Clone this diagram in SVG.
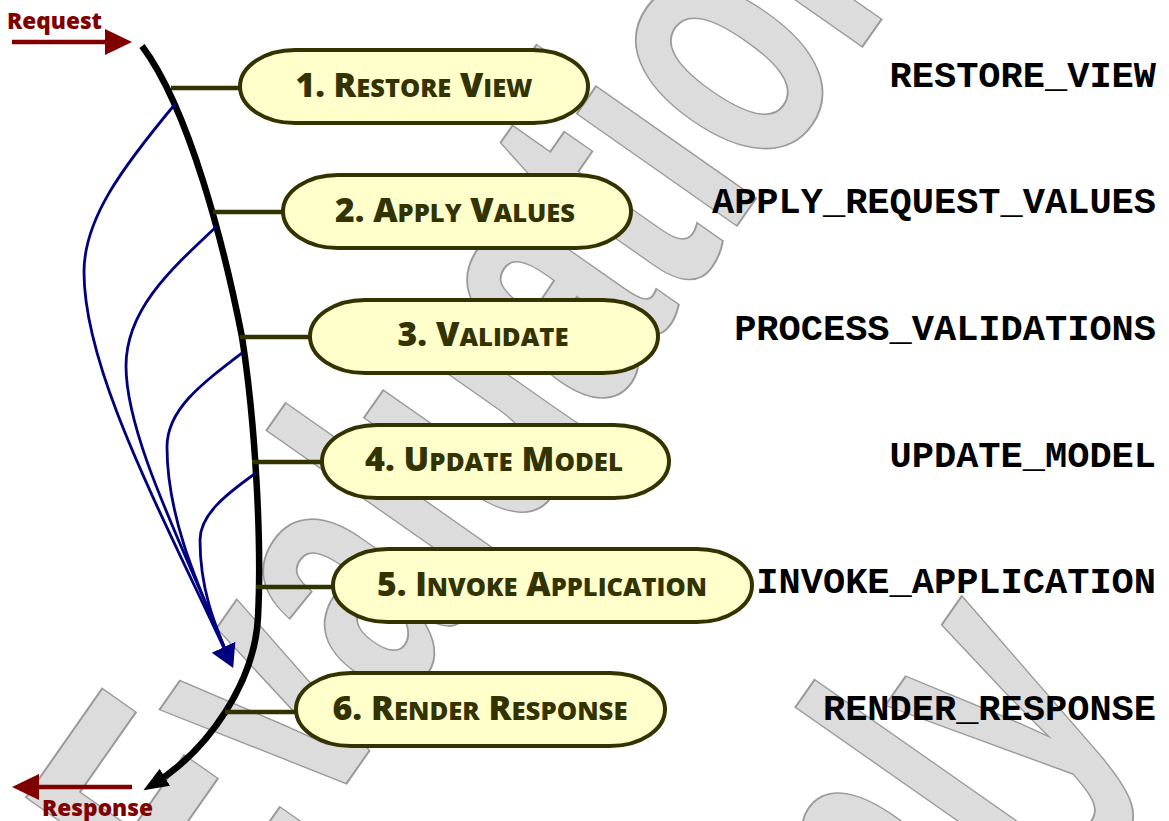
<svg xmlns="http://www.w3.org/2000/svg" width="1169" height="821" viewBox="0 0 1169 821">
<defs>
<style>
.wm{font-family:"Liberation Sans",Arial,sans-serif;font-weight:700;font-size:370px;fill:#dcdcdc;stroke:#9a9a9a;stroke-width:2}
.node rect{fill:#ffffcc;stroke:#333300;stroke-width:4}
.nt{font-family:"Open Sans","Liberation Sans",sans-serif;font-weight:800;fill:#333300;text-anchor:middle}
.big{font-size:33px}
.sm{font-size:25px}
.phase{font-family:"Liberation Mono","Courier New",monospace;font-weight:700;font-size:37px;fill:#000;text-anchor:end}
.io{font-family:"Open Sans","Liberation Sans",sans-serif;font-weight:800;font-size:22px;fill:#800000}
.stub{stroke:#333300;stroke-width:4.5;fill:none}
.flow{stroke:#000;stroke-width:6.5;fill:none}
.back{stroke:#000080;stroke-width:2.8;fill:none}
.red{stroke:#800000;stroke-width:4.5;fill:none}
</style>
<marker id="ahRed" markerUnits="userSpaceOnUse" markerWidth="28" markerHeight="28" viewBox="0 0 28 28" refX="17" refY="13" orient="auto"><path d="M0,0 L27,13 L0,26 z" fill="#800000"/></marker>
<marker id="ahBlack" markerUnits="userSpaceOnUse" markerWidth="26" markerHeight="22" viewBox="0 0 26 22" refX="15" refY="10" orient="auto"><path d="M0,0 L25,10 L0,20 z" fill="#000"/></marker>
<marker id="ahBlue" markerUnits="userSpaceOnUse" markerWidth="26" markerHeight="28" viewBox="0 0 26 28" refX="13" refY="13" orient="auto"><path d="M0,0 L23,13 L0,26 z" fill="#000080"/></marker>
</defs>
<rect width="1169" height="821" fill="#fff"/>
<g id="watermark" transform="translate(225,957) rotate(-55) scale(0.665,1)">
<text class="wm" x="0" y="0">Evaluation</text>
<text class="wm" x="260" y="592">Only</text>
</g>
<g id="connectors">
<path class="red" d="M12,42 L122,42" marker-end="url(#ahRed)"/>
<path class="red" d="M132,787 L22,787" marker-end="url(#ahRed)"/>
<path class="flow" d="M142,46 C190,110 225,250 242,337 C255,420 262,540 258,617 C255,680 210,750 152,785" marker-end="url(#ahBlack)"/>
<path class="stub" d="M171,88 L240,88"/>
<path class="stub" d="M213,212 L283,212"/>
<path class="stub" d="M240,337 L310,337"/>
<path class="stub" d="M252,462 L322,462"/>
<path class="stub" d="M256,587 L333,587"/>
<path class="stub" d="M225,712 L296,712"/>
<path class="back" d="M217,226 C170,270 126,310 126,366 C126,440 190,560 229,659"/>
<path class="back" d="M242,353 C200,385 167,410 167,447 C167,520 200,590 229,659"/>
<path class="back" d="M256,473 C225,495 200,515 200,540 C200,590 215,625 229,659"/>
<path class="back" d="M176,103 C120,170 84,220 84,272 C84,370 160,510 229,659" marker-end="url(#ahBlue)"/>
</g>
<text class="io" x="7" y="29" textLength="95" lengthAdjust="spacingAndGlyphs">Request</text>
<text class="io" x="42" y="816" textLength="111" lengthAdjust="spacingAndGlyphs">Response</text>
<g id="n1" class="node"><rect x="240" y="50" width="348" height="73" rx="55" ry="36.5"/><text class="nt" x="414" y="97" textLength="237" lengthAdjust="spacingAndGlyphs"><tspan class="big">1. R</tspan><tspan class="sm">ESTORE</tspan><tspan class="big"> V</tspan><tspan class="sm">IEW</tspan></text></g>
<g id="n2" class="node"><rect x="283" y="175" width="348" height="73" rx="55" ry="36.5"/><text class="nt" x="455" y="222" textLength="240" lengthAdjust="spacingAndGlyphs"><tspan class="big">2. A</tspan><tspan class="sm">PPLY</tspan><tspan class="big"> V</tspan><tspan class="sm">ALUES</tspan></text></g>
<g id="n3" class="node"><rect x="310" y="300" width="348" height="73" rx="55" ry="36.5"/><text class="nt" x="483" y="346" textLength="171" lengthAdjust="spacingAndGlyphs"><tspan class="big">3. V</tspan><tspan class="sm">ALIDATE</tspan></text></g>
<g id="n4" class="node"><rect x="322" y="425" width="347" height="73" rx="55" ry="36.5"/><text class="nt" x="494" y="471" textLength="258" lengthAdjust="spacingAndGlyphs"><tspan class="big">4. U</tspan><tspan class="sm">PDATE</tspan><tspan class="big"> M</tspan><tspan class="sm">ODEL</tspan></text></g>
<g id="n5" class="node"><rect x="333" y="549" width="419" height="73" rx="55" ry="36.5"/><text class="nt" x="542" y="596" textLength="330" lengthAdjust="spacingAndGlyphs"><tspan class="big">5. I</tspan><tspan class="sm">NVOKE</tspan><tspan class="big"> A</tspan><tspan class="sm">PPLICATION</tspan></text></g>
<g id="n6" class="node"><rect x="296" y="673" width="369" height="73" rx="55" ry="36.5"/><text class="nt" x="480" y="720" textLength="295" lengthAdjust="spacingAndGlyphs"><tspan class="big">6. R</tspan><tspan class="sm">ENDER</tspan><tspan class="big"> R</tspan><tspan class="sm">ESPONSE</tspan></text></g>
<g id="phases">
<text class="phase" x="1156" y="87">RESTORE_VIEW</text>
<text class="phase" x="1156" y="213">APPLY_REQUEST_VALUES</text>
<text class="phase" x="1156" y="340">PROCESS_VALIDATIONS</text>
<text class="phase" x="1156" y="467">UPDATE_MODEL</text>
<text class="phase" x="1156" y="593">INVOKE_APPLICATION</text>
<text class="phase" x="1156" y="720">RENDER_RESPONSE</text>
</g>
</svg>
